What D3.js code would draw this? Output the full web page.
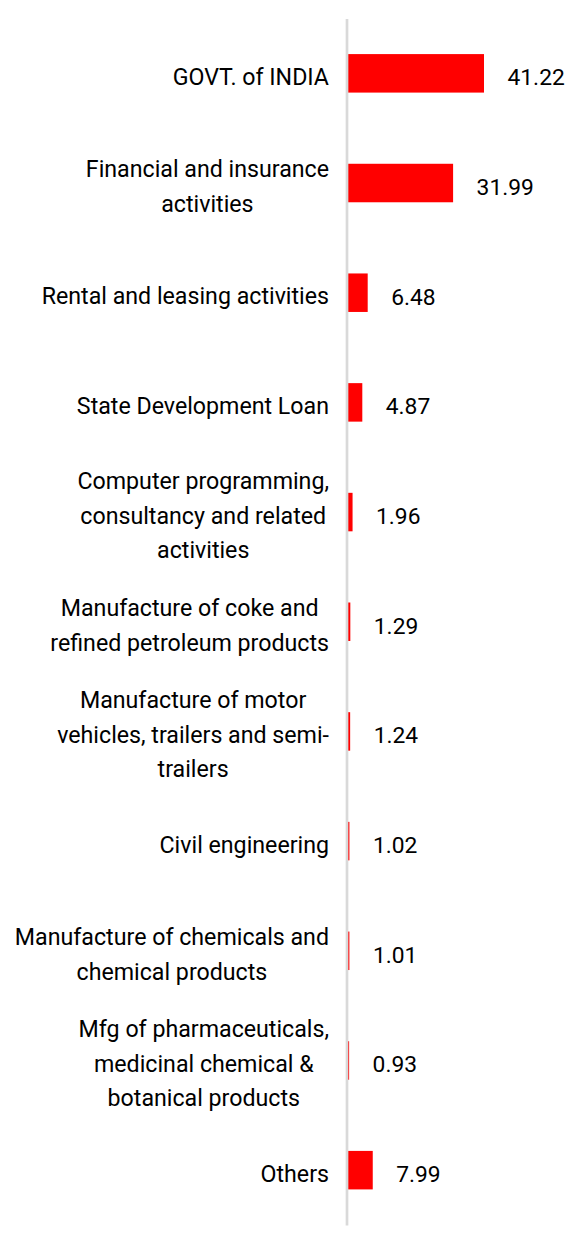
<!DOCTYPE html>
<html>
<head>
<meta charset="utf-8">
<script src="https://cdn.jsdelivr.net/npm/d3@7"></script>
<style>
  html, body { margin: 0; padding: 0; background: #fff; }
  svg { display: block; }
  text { font-family: Roboto, "Noto Sans", sans-serif; fill: #000; font-weight: 400; }
</style>
</head>
<body>
<script>
const categories = [
  "GOVT. of INDIA",
  "Financial and insurance\nactivities",
  "Rental and leasing activities",
  "State Development Loan",
  "Computer programming,\nconsultancy and related\nactivities",
  "Manufacture of coke and\nrefined petroleum products",
  "Manufacture of motor\nvehicles, trailers and semi-\ntrailers",
  "Civil engineering",
  "Manufacture of chemicals and\nchemical products",
  "Mfg of pharmaceuticals,\nmedicinal chemical &\nbotanical products",
  "Others"
];
const values = [41.22, 31.99, 6.48, 4.87, 1.96, 1.29, 1.24, 1.02, 1.01, 0.93, 7.99];
const valueLabels = ["41.22", "31.99", "6.48", "4.87", "1.96", "1.29", "1.24", "1.02", "1.01", "0.93", "7.99"];

const W = 588, H = 1247;
const fontSize = 23.2;
const valueFontSize = 22.8;
const lineHeight = 34.5;
const labelRight = 329;

const svg = d3.select("body").append("svg").attr("width", W).attr("height", H);

const x = d3.scaleLinear().domain([0, 41.22]).range([346, 484]);
const y = d3.scaleBand()
  .domain(categories)
  .range([18.5, 1225])
  .paddingInner(0.649)
  .paddingOuter(0.3245);

// bars
svg.append("g").selectAll("rect")
  .data(values)
  .join("rect")
  .attr("x", x(0))
  .attr("y", (d, i) => y(categories[i]))
  .attr("width", d => x(d) - x(0))
  .attr("height", y.bandwidth())
  .attr("fill", "#ff0000");

// axis line (category axis, no ticks)
const axis = d3.axisLeft(y).tickSize(0).tickFormat("");
const gAxis = svg.append("g").attr("transform", `translate(${x(0) + 0.5},0)`).call(axis);
gAxis.select(".domain").attr("stroke", "#d9d9d9").attr("stroke-width", 2.7);

// value labels
svg.append("g").selectAll("text")
  .data(values)
  .join("text")
  .attr("x", d => x(d) + 23.5)
  .attr("y", (d, i) => y(categories[i]) + y.bandwidth() / 2 + 12)
  .attr("font-size", valueFontSize)
  .text((d, i) => valueLabels[i]);

// category labels: right-aligned block, lines centered
const gLab = svg.append("g");
categories.forEach((c, i) => {
  const lines = c.split("\n");
  const cy = y(c) + y.bandwidth() / 2;
  const g = gLab.append("g");
  const texts = lines.map((ln, k) =>
    g.append("text")
      .attr("font-size", fontSize)
      .attr("y", cy + 11.5 + (k - (lines.length - 1) / 2) * lineHeight)
      .text(ln)
  );
  const widths = texts.map(t => t.node().getComputedTextLength());
  const maxW = d3.max(widths);
  const center = labelRight - maxW / 2;
  texts.forEach(t => t.attr("x", center).attr("text-anchor", "middle"));
});
</script>
</body>
</html>
